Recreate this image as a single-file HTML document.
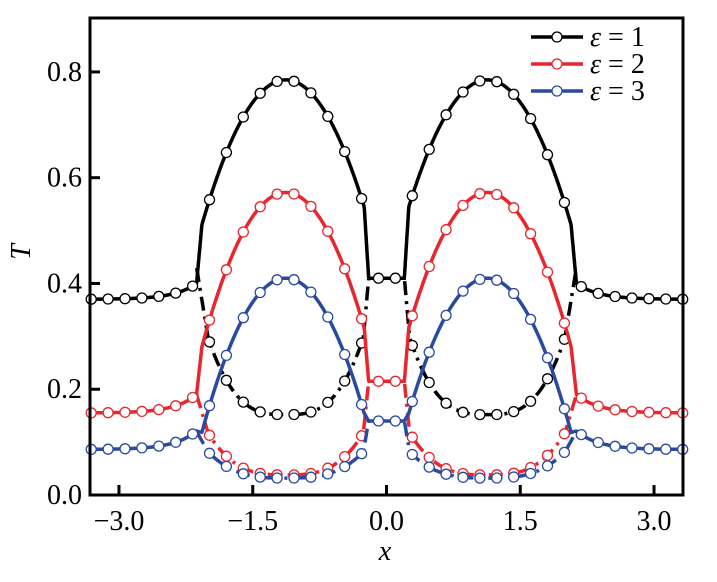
<!DOCTYPE html>
<html><head><meta charset="utf-8"><style>
html,body{margin:0;padding:0;background:#fff;}
svg{display:block;font-family:"Liberation Serif",serif;}
</style></head><body>
<svg id="s" width="717" height="582" xmlns="http://www.w3.org/2000/svg"></svg>
<script>
const S=document.getElementById('s');
const X0=90,X1=683,Y0=495,Y1=18;
const xmin=-3.325,xmax=3.325,ymax=0.902;
const px=x=>X0+(x-xmin)/(xmax-xmin)*(X1-X0);
const py=y=>Y0-y/ymax*(Y0-Y1);
let h='';
const c=1.13;
function br(x,p){
  const ax=Math.abs(x), d=Math.abs(ax-c);
  const arc=t=>p.peak-p.k*(t-c)*(t-c);
  let u;
  if(ax>=2.13) u=p.out+p.rise*Math.exp((2.13-ax)/0.25);
  else if(ax<=0.2) u=p.inn;
  else if(ax>2.07){const f=(ax-2.07)/0.06;const a0=arc(2.07);u=a0+(p.out+p.rise-a0)*f;}
  else if(ax<0.25){const f=(0.25-ax)/0.05;const a0=arc(0.25);u=a0+(p.inn-a0)*f;}
  else u=arc(ax);
  let l=null;
  if(ax>0.2&&ax<2.13){
    const lo=t=>p.low+p.kl*t*t*t;
    if(d<=0.87) l=lo(d);
    else{const dEnd=ax>c?1.0:0.93;const e=ax>c?p.ledge:p.inn;const f=(d-0.87)/(dEnd-0.87);l=lo(0.87)+(e-lo(0.87))*f;}
  }
  return {u,l};
}
const P=[
 {c:'#000',out:0.37,rise:0.03,inn:0.41,peak:0.785,k:0.31,low:0.152,kl:0.22,ledge:0.43},
 {c:'#e8262e',out:0.155,rise:0.035,inn:0.215,peak:0.572,k:0.33,low:0.038,kl:0.12,ledge:0.19},
 {c:'#2a4aa0',out:0.086,rise:0.035,inn:0.14,peak:0.41,k:0.33,low:0.032,kl:0.075,ledge:0.12}
];
for(const p of P){
  let u='',l=[],cur='';
  for(let x=xmin;x<=xmax+1e-9;x+=0.004){
    const r=br(x,p);
    u+=(u?'L':'M')+px(x).toFixed(1)+','+py(r.u).toFixed(1);
    if(r.l!==null){cur+=(cur?'L':'M')+px(x).toFixed(1)+','+py(r.l).toFixed(1);}
    else if(cur){l.push(cur);cur='';}
  }
  if(cur)l.push(cur);
  h+=`<path d="${u}" fill="none" stroke="${p.c}" stroke-width="3.5"/>`;
  for(const d of l)h+=`<path d="${d}" fill="none" stroke="${p.c}" stroke-width="3.5" stroke-dasharray="14,6,3,6"/>`;
  for(let xp=91.2;xp<=684;xp+=16.9){
    const x=xmin+(xp-X0)/(X1-X0)*(xmax-xmin);
    const r=br(x,p);
    h+=`<circle cx="${xp.toFixed(1)}" cy="${py(r.u).toFixed(1)}" r="5" fill="#fff" stroke="${p.c}" stroke-width="1.3"/>`;
    if(r.l!==null)h+=`<circle cx="${xp.toFixed(1)}" cy="${py(r.l).toFixed(1)}" r="5" fill="#fff" stroke="${p.c}" stroke-width="1.3"/>`;
  }
}
h+=`<rect x="${X0}" y="${Y1}" width="${X1-X0}" height="${Y0-Y1}" fill="none" stroke="#000" stroke-width="3"/>`;
for(const t of [-3,-1.5,0,1.5,3]){
  const x=px(t);
  h+=`<line x1="${x}" y1="${Y0}" x2="${x}" y2="${Y0-10}" stroke="#000" stroke-width="3"/>`;
  h+=`<text x="${x}" y="530" font-size="28" text-anchor="middle">${t<0?'\u2212':''}${Math.abs(t).toFixed(1)}</text>`;
}
for(const t of [0,0.2,0.4,0.6,0.8]){
  const y=py(t);
  h+=`<line x1="${X0}" y1="${y}" x2="${X0+10}" y2="${y}" stroke="#000" stroke-width="3"/>`;
  h+=`<text x="82" y="${y+9}" font-size="28" text-anchor="end">${t.toFixed(1)}</text>`;
}
h+=`<text x="385" y="560" font-size="28" font-style="italic" text-anchor="middle">x</text>`;
h+=`<text x="30" y="252" font-size="28" font-style="italic" text-anchor="middle" transform="rotate(-90 30 252)">T</text>`;
P.forEach((p,i)=>{
  const y=37+i*27;
  h+=`<line x1="531" y1="${y}" x2="583" y2="${y}" stroke="${p.c}" stroke-width="3.5"/>`;
  h+=`<circle cx="557" cy="${y}" r="5" fill="#fff" stroke="${p.c}" stroke-width="1.3"/>`;
  h+=`<text x="590" y="${y+9}" font-size="28"><tspan font-style="italic">ε</tspan> = ${i+1}</text>`;
});
S.innerHTML=h;
</script>
</body></html>
